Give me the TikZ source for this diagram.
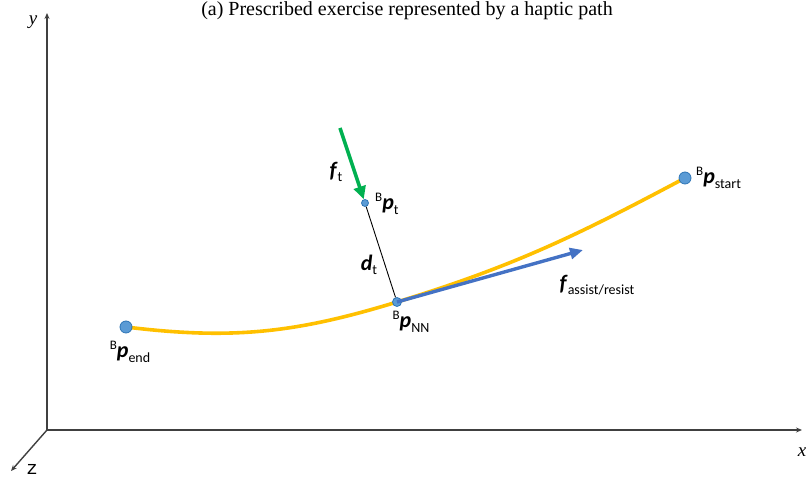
\documentclass[tikz,border=0pt]{standalone}
\usepackage{fontspec}
\setmainfont{Liberation Serif}
\setmonofont{Liberation Mono}
\newfontfamily\labelfont{Carlito}
\usetikzlibrary{arrows.meta}
\definecolor{pathgold}{HTML}{FFC000}
\definecolor{dotblue}{HTML}{5B9BD5}
\definecolor{dotedge}{HTML}{2E75B6}
\definecolor{forcegreen}{HTML}{00B050}
\definecolor{forceblue}{HTML}{4472C4}
\definecolor{axisgray}{HTML}{404040}
% symbol with a small subscript, and the same with a leading B
\newcommand{\sym}[2]{\textbf{\textit{#1}}{\fontsize{14}{14}\selectfont\raisebox{-4.5pt}{#2}}}
\newcommand{\Bsym}[1]{\raisebox{8pt}{\fontsize{13}{13}\selectfont B}\sym{p}{#1}}

\begin{document}
\begin{tikzpicture}[x=1pt,y=1pt,font=\labelfont\fontsize{22}{24}\selectfont,
  axis/.style={line width=1.4pt,axisgray,-{Stealth[length=6pt,width=5pt]}},
  axislabel/.style={font=\rmfamily\itshape\fontsize{19}{21}\selectfont},
  dot/.style={circle,fill=dotblue,draw=dotedge,line width=0.8pt,inner sep=0pt}]
  \useasboundingbox (0,0) rectangle (806,479);
  \node[font=\rmfamily\fontsize{20}{22}\selectfont,anchor=base] (caption) at (407,463)
    {(a) Prescribed exercise represented by a haptic path};

  % axes
  \coordinate (origin) at (47,49);
  \coordinate (yend) at (47,466);
  \coordinate (xend) at (802,49);
  \coordinate (zend) at (11,8);
  \draw[axis] (origin) -- (yend);
  \draw[axis] (origin) -- (xend);
  \draw[axis] (origin) -- (zend);
  \node[axislabel] (ylabel) at (33,457) {y};
  \node[axislabel] (xlabel) at (802,27) {x};
  \node[font=\ttfamily\fontsize{19}{21}\selectfont] (zlabel) at (32,10) {z};

  % haptic path
  \coordinate (pend) at (126,152);
  \coordinate (pnn) at (397,177);
  \coordinate (pstart) at (685,301);
  \coordinate (pt) at (365,276);
  \draw[pathgold,line width=3.6pt] (pend) to[out=-7,in=197] (pnn) to[out=17,in=208] (pstart);

  \node[dot,minimum size=12pt] (enddot) at (pend) {};
  \node[dot,minimum size=12pt] (startdot) at (pstart) {};
  \node[dot,minimum size=9pt] (nndot) at (pnn) {};
  \node[dot,minimum size=7pt] (ptdot) at (pt) {};

  % distance and forces
  \draw[black,line width=0.9pt] (ptdot) -- (nndot);
  \coordinate (fttail) at (340,351);
  \draw[forcegreen,line width=3.6pt,-{Triangle[length=13pt,width=12pt]}] (fttail) -- (ptdot);
  \coordinate (assisttip) at (583,229);
  \draw[forceblue,line width=3.4pt,-{Triangle[length=13pt,width=11pt]}] (nndot.center) -- (assisttip);

  % labels
  \node (ftlabel) at (336,307) {\sym{f}{t}};
  \node (dtlabel) at (369,214) {\sym{d}{t}};
  \node[anchor=west,inner sep=0pt] (ptlabel) at (375,275) {\Bsym{t}};
  \node[anchor=west,inner sep=0pt] (startlabel) at (696,301) {\Bsym{start}};
  \node (nnlabel) at (411,157) {\Bsym{NN}};
  \node (endlabel) at (130,127) {\Bsym{end}};
  \node (assistlabel) at (597,194) {\sym{f}{assist/resist}};
\end{tikzpicture}
\end{document}
